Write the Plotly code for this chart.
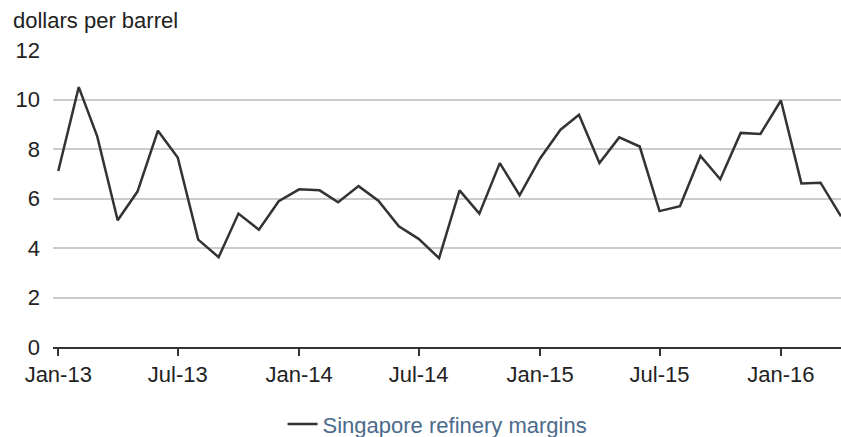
import plotly.graph_objects as go
import pandas as pd

months = pd.date_range("2013-01-01", "2016-04-01", freq="MS")
margins = [7.11, 10.50, 8.51, 5.12, 6.28, 8.74, 7.66, 4.34, 3.63, 5.39, 4.74, 5.89,
           6.37, 6.33, 5.85, 6.50, 5.91, 4.88, 4.37, 3.59, 6.33, 5.39, 7.43, 6.13,
           7.62, 8.78, 9.38, 7.43, 8.47, 8.10, 5.49, 5.69, 7.72, 6.78, 8.65, 8.61,
           9.96, 6.61, 6.64, 5.28]
tick_vals = pd.date_range("2013-01-01", "2016-01-01", freq="6MS")
tick_text = [d.strftime("%b-%y") for d in tick_vals]

fig = go.Figure()
fig.add_trace(go.Scatter(x=months, y=margins, mode="lines", name="Singapore refinery margins",
                         line=dict(color="#333333", width=2.5)))

fig.update_layout(
    width=841, height=437,
    margin=dict(l=53, r=0, t=50, b=90, autoexpand=False),
    paper_bgcolor="white", plot_bgcolor="white",
    font=dict(family="Liberation Sans, Arial, sans-serif", size=22, color="#222222"),
    showlegend=True,
    legend=dict(orientation="h", x=0.488, xanchor="center", y=-0.26, yanchor="middle",
                font=dict(color="#4b6a8c", size=22), itemwidth=30),
    annotations=[dict(text="dollars per barrel", xref="paper", yref="paper",
                      x=-0.053, y=1.101, xanchor="left", yanchor="middle",
                      showarrow=False, font=dict(size=22, color="#222222"))],
)
fig.update_xaxes(range=["2012-12-24", "2016-04-01"], tickvals=tick_vals, ticktext=tick_text,
                 showgrid=False, showline=True, linecolor="#333333", linewidth=1.5,
                 ticks="outside", ticklen=7, tickcolor="#333333", tickwidth=1.5,
                 automargin=False)
fig.update_yaxes(range=[0, 12], dtick=2, showgrid=True, gridcolor="#cccccc", gridwidth=1.5,
                 zeroline=False, ticks="", ticklabelstandoff=12, automargin=False)

# page body has an 8px default margin; drop it so the figure sits at the window corner
fig.write_html("out.html", config={"displayModeBar": False},
               post_script="document.body.style.margin='0';")
